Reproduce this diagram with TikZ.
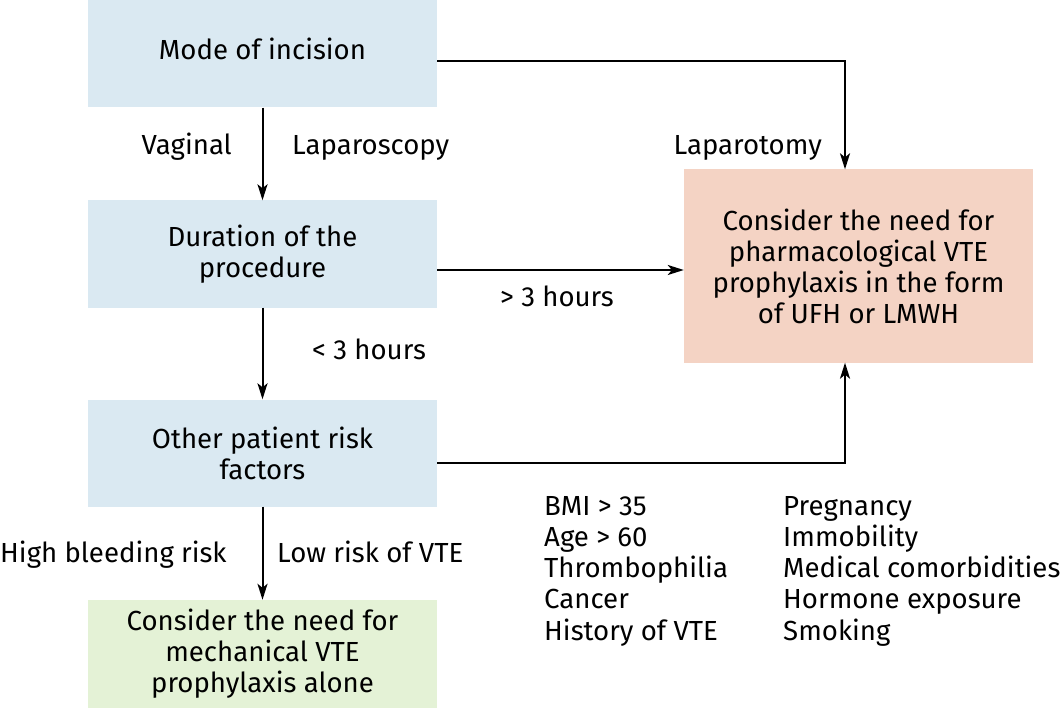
\documentclass[tikz,border=0pt]{standalone}
\usepackage{fontspec}
\setmainfont{Fira Sans}
\usetikzlibrary{arrows.meta}
\definecolor{bluebox}{RGB}{218,233,242}
\definecolor{orangebox}{RGB}{244,211,196}
\definecolor{greenbox}{RGB}{228,242,214}
\begin{document}
\begin{tikzpicture}[x=1pt,y=-1pt,
  every node/.style={font=\fontsize{27.6}{31}\selectfont, inner sep=0pt, text=black},
  box/.style={minimum width=349pt, minimum height=107pt, align=center},
  arr/.style={line width=2pt, -{Stealth[length=16pt,width=10pt,inset=4pt]}}]
\useasboundingbox (0,0) rectangle (1064,708);
\node[box, fill=bluebox] (mode) at (262.5,54) {};
\node (modetext) at (262.5,49) {Mode of incision};
\node[box, fill=bluebox] (dur) at (262.5,254) {Duration of the\\procedure};
\node[box, fill=bluebox] (risk) at (262.5,453) {Other patient risk\\factors};
\node[box, fill=greenbox, minimum height=108pt] (mech) at (262.5,654) {Consider the need for\\mechanical VTE\\prophylaxis alone};
\node[box, fill=orangebox, minimum width=349pt, minimum height=193pt] (pharm) at (858.5,266) {Consider the need for\\pharmacological VTE\\prophylaxis in the form\\of UFH or LMWH};
\coordinate (lapx) at (845,0);
\draw[arr] (mode.south) -- (dur.north);
\draw[arr] (dur.south) -- (risk.north);
\draw[arr] (risk.south) -- (mech.north);
\draw[arr] ([yshift=-7pt]mode.east) -| (pharm.north -| lapx);
\draw[arr] ([yshift=-16pt]dur.east) -- ([yshift=-16pt]dur.east -| pharm.west);
\draw[arr] ([yshift=-10pt]risk.east) -| (pharm.south -| lapx);
\node[anchor=base east] (vag) at (232,155) {Vaginal};
\node[anchor=base west] (lapsc) at (292,155) {Laparoscopy};
\node[anchor=base east] (lapt) at (822,155) {Laparotomy};
\node[anchor=base] (gt3) at (557,306) {> 3 hours};
\node[anchor=base west] (lt3) at (312,359) {< 3 hours};
\node[anchor=base west] (hbr) at (0,562) {High bleeding risk};
\node[anchor=base west] (lrv) at (277,562) {Low risk of VTE};
\node[anchor=north west, align=left, font=\fontsize{27.6}{31.2}\selectfont] (col1) at (544,496) {BMI > 35\\Age > 60\\Thrombophilia\\Cancer\\History of VTE};
\node[anchor=north west, align=left, font=\fontsize{27.6}{31.2}\selectfont] (col2) at (783,496) {Pregnancy\\Immobility\\Medical comorbidities\\Hormone exposure\\Smoking};
\end{tikzpicture}
\end{document}
